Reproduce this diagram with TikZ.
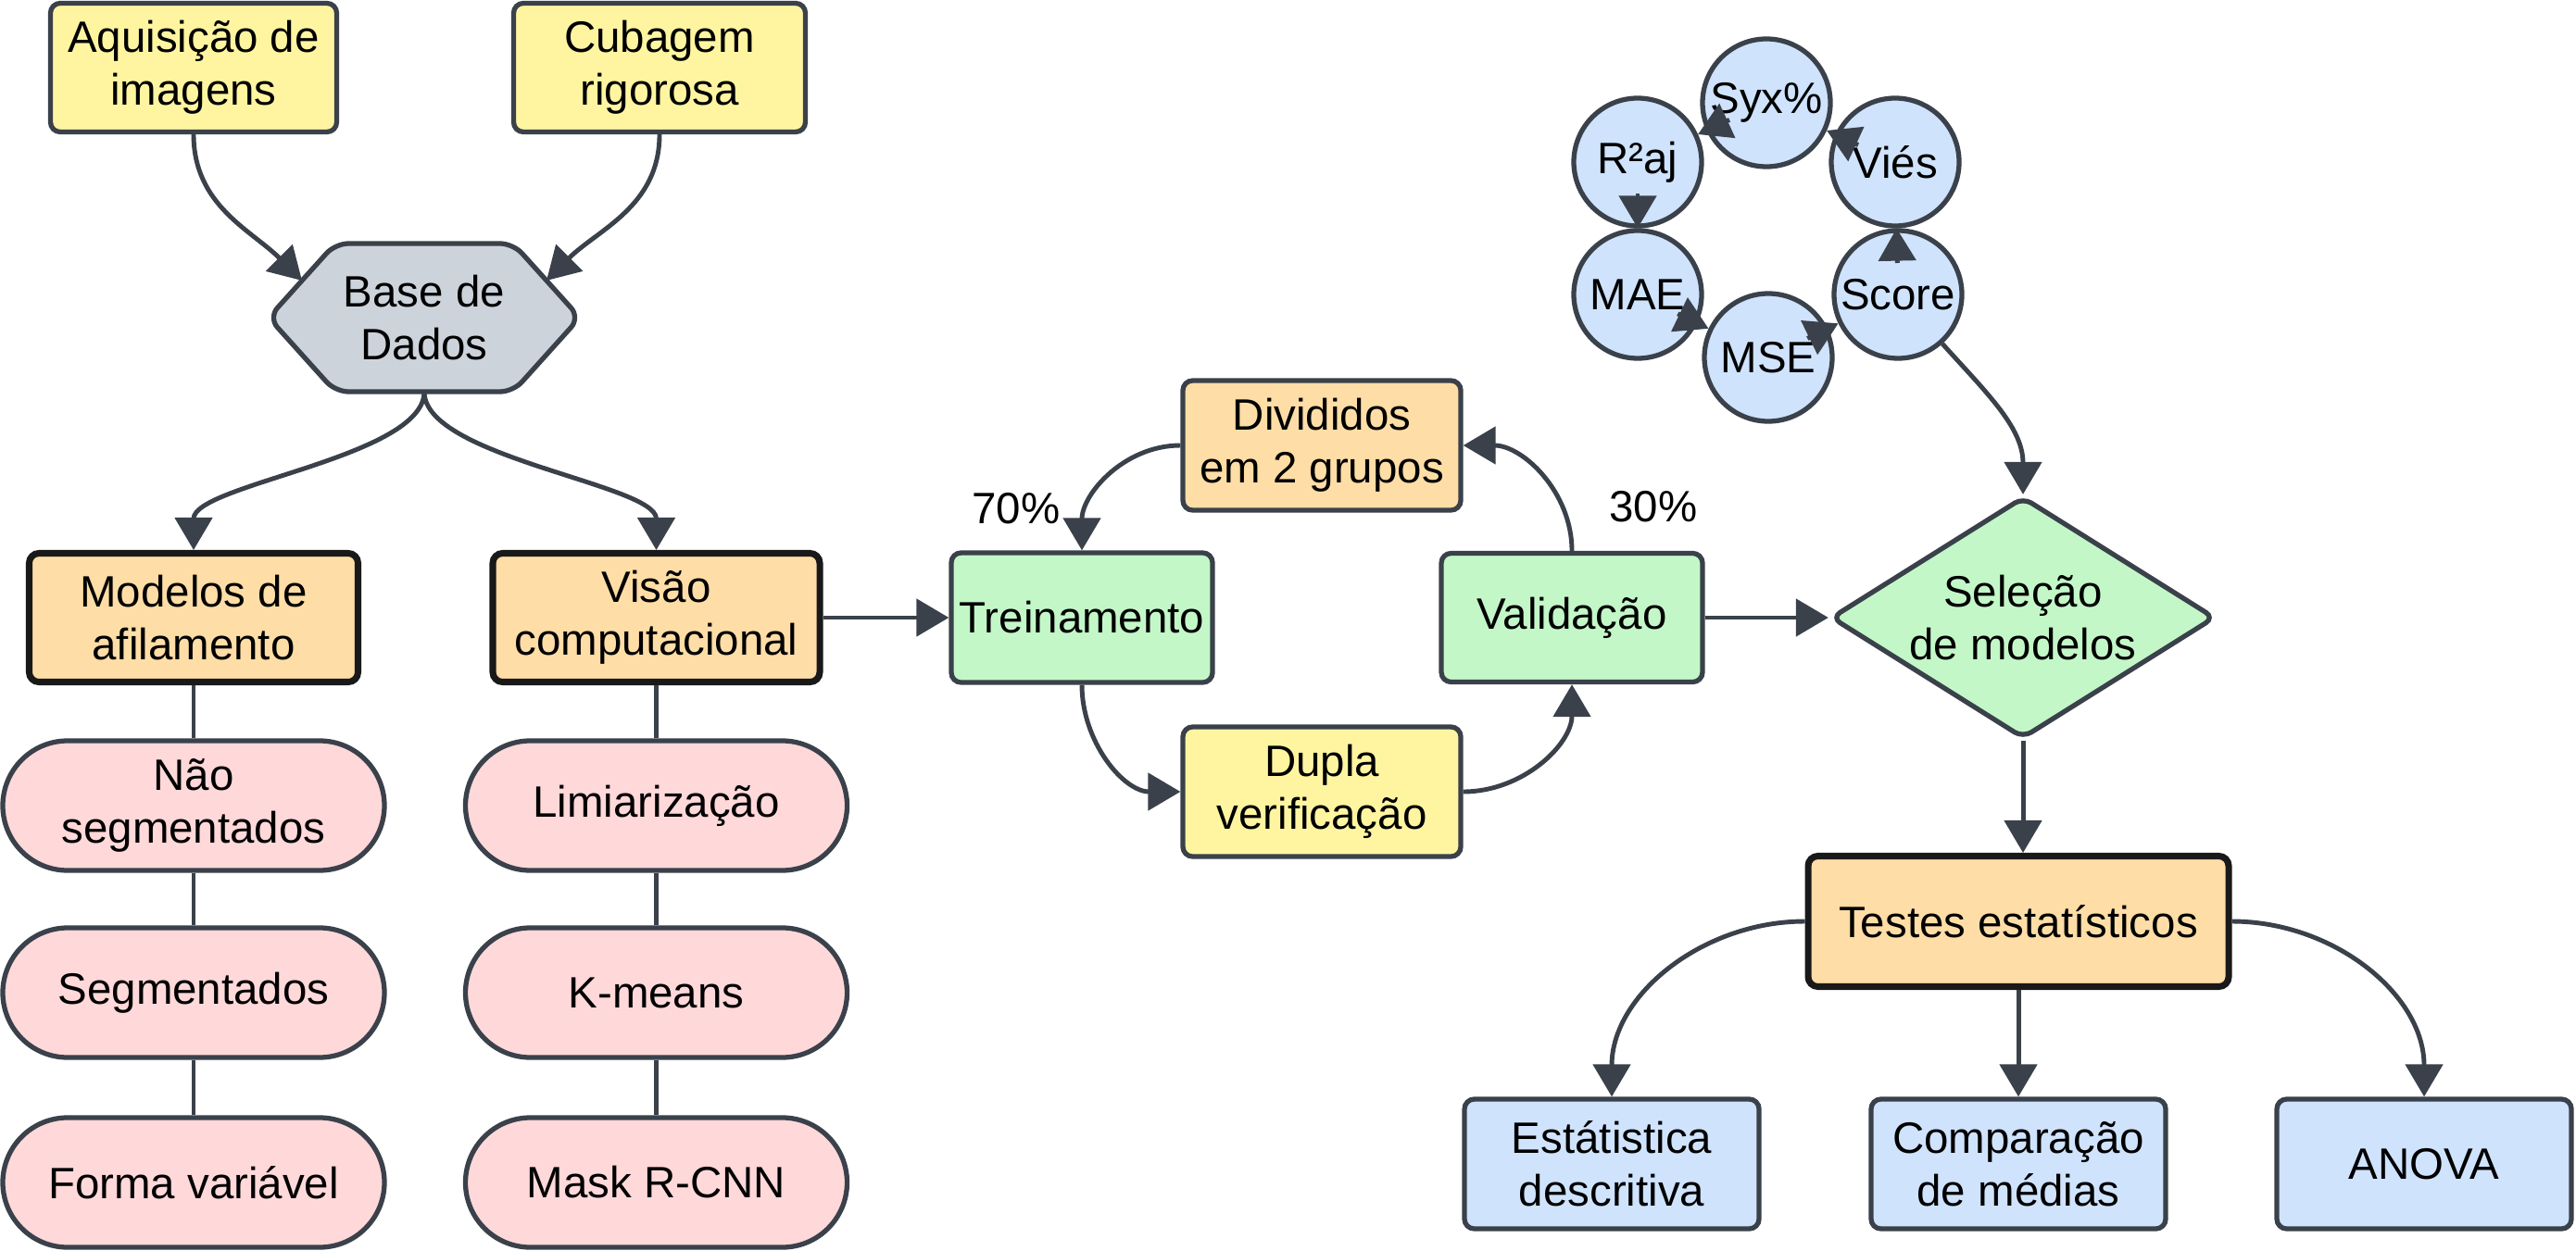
\documentclass[tikz,border=0pt]{standalone}
\usepackage{fontspec}
\setmainfont{Liberation Sans}
\usepackage{tikz}
\usetikzlibrary{arrows.meta,shapes.geometric}
\usepackage{xcolor}

\definecolor{linha}{HTML}{3A414A}
\definecolor{amarelo}{HTML}{FFF5A1}
\definecolor{laranja}{HTML}{FEDDA6}
\definecolor{verde}{HTML}{C3F7C8}
\definecolor{rosa}{HTML}{FFD8DA}
\definecolor{azul}{HTML}{CFE3FD}
\definecolor{cinza}{HTML}{CDD3DB}

\tikzset{
  texto/.style={align=center, inner sep=0pt, font=\fontsize{13.5}{16.2}\selectfont},
  caixa/.style={texto, draw=linha, line width=1.5pt, rounded corners=3pt, minimum height=1.39cm},
  preta/.style={caixa, draw=black!90, line width=2pt, fill=laranja},
  pilula/.style={caixa, rounded corners=0.7cm, minimum width=4.12cm, minimum height=1.40cm, fill=rosa},
  bola/.style={texto, circle, draw=linha, line width=1.5pt, fill=azul, minimum size=1.38cm},
  losango/.style={texto, diamond, aspect=1.59, draw=linha, line width=1.5pt, rounded corners=3pt, fill=verde, minimum width=4.15cm, minimum height=2.61cm},
  seta/.style={draw=linha, line width=1.4pt, -{Triangle[length=3.5mm,width=4mm]}},
  volta/.style={seta, shorten <=#1},
  liga/.style={draw=linha, line width=1.4pt},
}

\begin{document}
\begin{tikzpicture}
    \useasboundingbox (0,0) rectangle (27.81,13.5);

    \node[caixa, fill=amarelo, minimum width=3.09cm] (aquis) at (2.09,12.77) {Aquisição de\\imagens};
    \node[caixa, fill=amarelo, minimum width=3.15cm] (cubag) at (7.12,12.77) {Cubagem\\rigorosa};

    \draw[line width=1.5pt, draw=linha, fill=cinza, rounded corners=4pt]
        (2.90,10.07) -- (3.62,10.87) -- (5.54,10.87) -- (6.26,10.07) -- (5.54,9.27) -- (3.62,9.27) -- cycle;
    \node[texto] (base) at (4.58,10.07) {Base de\\Dados};
    \coordinate (baseNO) at (3.26,10.47);
    \coordinate (baseNE) at (5.90,10.47);
    \coordinate (baseS) at (4.58,9.27);

    \node[preta, minimum width=3.55cm] (model) at (2.09,6.83) {Modelos de\\afilamento};
    \node[preta, minimum width=3.53cm] (visao) at (7.085,6.83) {Visão\\computacional};

    \node[pilula] (naoseg) at (2.09,4.80) {Não\\segmentados};
    \node[pilula] (segm) at (2.09,2.78) {Segmentados};
    \node[pilula] (forma) at (2.09,0.73) {Forma variável};
    \node[pilula] (limiar) at (7.085,4.80) {Limiarização};
    \node[pilula] (kmeans) at (7.085,2.78) {K-means};
    \node[pilula] (mask) at (7.085,0.73) {Mask R-CNN};

    \node[caixa, fill=verde, minimum width=2.82cm, minimum height=1.40cm] (trein) at (11.68,6.83) {Treinamento};
    \node[caixa, fill=laranja, minimum width=3.00cm, minimum height=1.40cm] (divid) at (14.27,8.69) {Divididos\\em 2 grupos};
    \node[caixa, fill=amarelo, minimum width=3.00cm, minimum height=1.40cm] (dupla) at (14.27,4.95) {Dupla\\verificação};
    \node[caixa, fill=verde, minimum width=2.82cm] (valid) at (16.97,6.83) {Validação};
    \node[texto] (setenta) at (10.97,8.01) {70\%};
    \node[texto] (trinta) at (17.85,8.03) {30\%};

    \node[bola] (syx) at (19.07,12.39) {Syx\%};
    \node[bola] (r2aj) at (17.68,11.75) {R²aj};
    \node[bola] (vies) at (20.46,11.75) {Viés};
    \node[bola] (mae) at (17.68,10.32) {MAE};
    \node[bola] (score) at (20.49,10.32) {Score};
    \node[bola] (mse) at (19.09,9.64) {MSE};

    \node[losango] (selec) at (21.84,6.83) {Seleção\\de modelos};
    \node[preta, minimum width=4.54cm, minimum height=1.41cm] (testes) at (21.79,3.55) {Testes estatísticos};

    \node[caixa, fill=azul, minimum width=3.18cm, minimum height=1.40cm] (estat) at (17.40,0.93) {Estátistica\\descritiva};
    \node[caixa, fill=azul, minimum width=3.18cm, minimum height=1.40cm] (compar) at (21.79,0.93) {Comparação\\de médias};
    \node[caixa, fill=azul, minimum width=3.18cm, minimum height=1.40cm] (anova) at (26.17,0.93) {ANOVA};

    \draw[seta] (aquis.south) to[out=-90,in=135] (baseNO);
    \draw[seta] (cubag.south) to[out=-90,in=45] (baseNE);
    \draw[seta] (baseS) to[out=-90,in=90,looseness=0.6] (model.north);
    \draw[seta] (baseS) to[out=-90,in=90,looseness=0.6] (visao.north);

    \draw[liga] (model) -- (naoseg);
    \draw[liga] (naoseg) -- (segm);
    \draw[liga] (segm) -- (forma);
    \draw[liga] (visao) -- (limiar);
    \draw[liga] (limiar) -- (kmeans);
    \draw[liga] (kmeans) -- (mask);

    \draw[seta] (visao) -- (trein);
    \draw[seta] (divid.west) to[out=180,in=90] (trein.north);
    \draw[seta] (trein.south) to[out=-90,in=180] (dupla.west);
    \draw[seta] (dupla.east) to[out=0,in=-90] (valid.south);
    \draw[seta] (valid.north) to[out=90,in=0] (divid.east);
    \draw[seta] (valid) -- (selec);

    \draw[volta=4.4mm] (syx.center) -- (r2aj);
    \draw[volta=3.4mm] (r2aj.center) -- (mae);
    \draw[volta=4.8mm] (mae.center) -- (mse);
    \draw[volta=4.7mm] (mse.center) -- (score);
    \draw[volta=3.4mm] (score.center) -- (vies);
    \draw[volta=4.4mm] (vies.center) -- (syx);
    \draw[seta] (score) to[out=-48,in=90] (selec.north);

    \draw[seta] (selec.south) -- (selec.south |- testes.north);
    \draw[seta] (testes.west) to[out=180,in=90] (estat.north);
    \draw[seta] (testes.south) -- (compar.north);
    \draw[seta] (testes.east) to[out=0,in=90] (anova.north);
\end{tikzpicture}
\end{document}
